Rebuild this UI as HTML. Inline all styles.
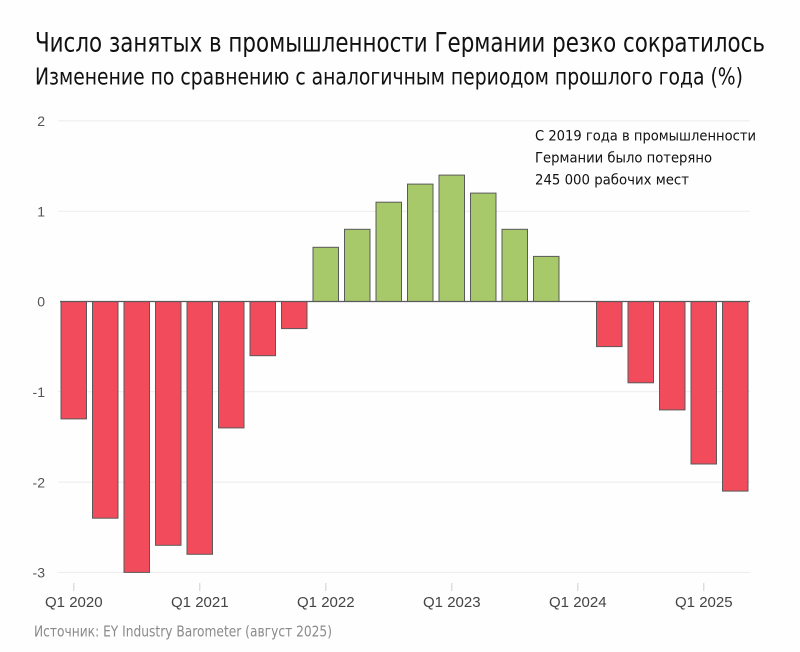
<!DOCTYPE html>
<html>
<head>
<meta charset="utf-8">
<style>
  html,body{margin:0;padding:0;background:#fefefe;}
  svg{display:block;}
  .t{font-family:"Liberation Sans Narrow","DejaVu Sans Condensed","Liberation Sans",sans-serif;}
  .s{font-family:"Liberation Sans",sans-serif;}
</style>
</head>
<body>
<svg width="800" height="652" viewBox="0 0 800 652" xmlns="http://www.w3.org/2000/svg">
  <rect width="800" height="652" fill="#fefefe"/>
  <!-- Titles -->
  <text class="t" x="35" y="51.5" font-size="27" fill="#111" textLength="730" lengthAdjust="spacingAndGlyphs">Число занятых в промышленности Германии резко сократилось</text>
  <text class="t" x="35" y="84.5" font-size="23" fill="#111" textLength="708" lengthAdjust="spacingAndGlyphs">Изменение по сравнению с аналогичным периодом прошлого года (%)</text>

  <!-- gridlines -->
  <g stroke="#ebebeb" stroke-width="1">
    <line x1="58" y1="120.9" x2="750" y2="120.9"/>
    <line x1="58" y1="211.2" x2="750" y2="211.2"/>
    <line x1="58" y1="391.8" x2="750" y2="391.8"/>
    <line x1="58" y1="482.1" x2="750" y2="482.1"/>
    <line x1="58" y1="572.4" x2="750" y2="572.4"/>
  </g>

  <!-- y labels -->
  <g class="s" font-size="14" fill="#555" text-anchor="end">
    <text x="45" y="126">2</text>
    <text x="45" y="216.5">1</text>
    <text x="45" y="306.5">0</text>
    <text x="45" y="397">-1</text>
    <text x="45" y="487.5">-2</text>
    <text x="45" y="577.5">-3</text>
  </g>

  <!-- bars -->
  <g stroke="#5a5a5a" stroke-width="1">
    <!-- 2020 -->
    <rect x="61" y="301.5" width="25.5" height="117.4" fill="#f24b5c"/>
    <rect x="92.5" y="301.5" width="25.5" height="216.7" fill="#f24b5c"/>
    <rect x="124" y="301.5" width="25.5" height="270.9" fill="#f24b5c"/>
    <rect x="155.5" y="301.5" width="25.5" height="243.8" fill="#f24b5c"/>
    <!-- 2021 -->
    <rect x="187" y="301.5" width="25.5" height="252.8" fill="#f24b5c"/>
    <rect x="218.5" y="301.5" width="25.5" height="126.4" fill="#f24b5c"/>
    <rect x="250" y="301.5" width="25.5" height="54.2" fill="#f24b5c"/>
    <rect x="281.5" y="301.5" width="25.5" height="27.1" fill="#f24b5c"/>
    <!-- 2022 -->
    <rect x="313" y="247.3" width="25.5" height="54.2" fill="#a8c96a"/>
    <rect x="344.5" y="229.3" width="25.5" height="72.2" fill="#a8c96a"/>
    <rect x="376" y="202.2" width="25.5" height="99.3" fill="#a8c96a"/>
    <rect x="407.5" y="184.1" width="25.5" height="117.4" fill="#a8c96a"/>
    <!-- 2023 -->
    <rect x="439" y="175.1" width="25.5" height="126.4" fill="#a8c96a"/>
    <rect x="470.5" y="193.1" width="25.5" height="108.4" fill="#a8c96a"/>
    <rect x="502" y="229.3" width="25.5" height="72.2" fill="#a8c96a"/>
    <rect x="533.5" y="256.4" width="25.5" height="45.1" fill="#a8c96a"/>
    <!-- 2024 -->
    <rect x="596.5" y="301.5" width="25.5" height="45.1" fill="#f24b5c"/>
    <rect x="628" y="301.5" width="25.5" height="81.3" fill="#f24b5c"/>
    <rect x="659.5" y="301.5" width="25.5" height="108.4" fill="#f24b5c"/>
    <!-- 2025 -->
    <rect x="691" y="301.5" width="25.5" height="162.5" fill="#f24b5c"/>
    <rect x="722.5" y="301.5" width="25.5" height="189.6" fill="#f24b5c"/>
  </g>

  <!-- zero line -->
  <line x1="60" y1="301.5" x2="750" y2="301.5" stroke="#5a5a5a" stroke-width="1.2"/>

  <!-- ticks -->
  <g stroke="#cfcfcf" stroke-width="1">
    <line x1="73.8" y1="583" x2="73.8" y2="591"/>
    <line x1="199.8" y1="583" x2="199.8" y2="591"/>
    <line x1="325.8" y1="583" x2="325.8" y2="591"/>
    <line x1="451.8" y1="583" x2="451.8" y2="591"/>
    <line x1="577.8" y1="583" x2="577.8" y2="591"/>
    <line x1="703.8" y1="583" x2="703.8" y2="591"/>
  </g>

  <!-- x labels -->
  <g class="s" font-size="15" fill="#444" text-anchor="middle">
    <text x="73.8" y="607">Q1 2020</text>
    <text x="199.8" y="607">Q1 2021</text>
    <text x="325.8" y="607">Q1 2022</text>
    <text x="451.8" y="607">Q1 2023</text>
    <text x="577.8" y="607">Q1 2024</text>
    <text x="703.8" y="607">Q1 2025</text>
  </g>

  <!-- annotation -->
  <g class="t" font-size="14.5" fill="#111">
    <text x="535" y="140.5" textLength="221" lengthAdjust="spacingAndGlyphs">С 2019 года в промышленности</text>
    <text x="535" y="162.5" textLength="177" lengthAdjust="spacingAndGlyphs">Германии было потеряно</text>
    <text x="535" y="184.5" textLength="154" lengthAdjust="spacingAndGlyphs">245 000 рабочих мест</text>
  </g>

  <!-- source -->
  <text class="t" x="34" y="636.5" font-size="15" fill="#8a8a8a" textLength="298" lengthAdjust="spacingAndGlyphs">Источник: EY Industry Barometer (август 2025)</text>
</svg>
</body>
</html>
